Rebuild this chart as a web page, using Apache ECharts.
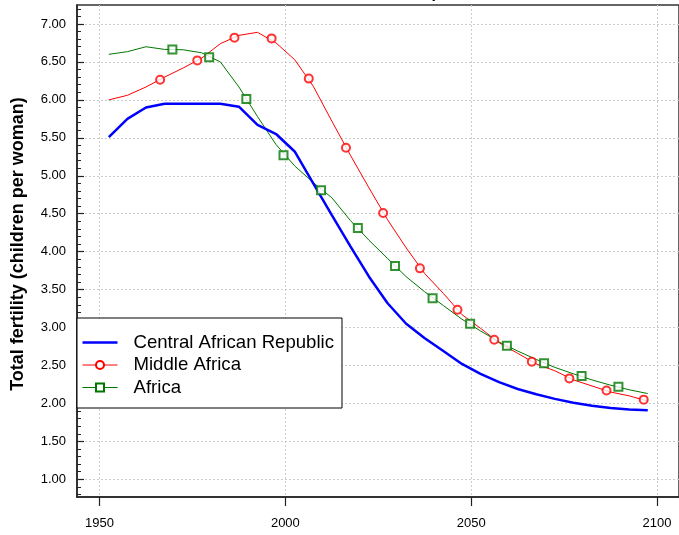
<!DOCTYPE html>
<html>
<head>
<meta charset="utf-8">
<script src="https://cdn.jsdelivr.net/npm/echarts@6/dist/echarts.min.js"></script>
<style>html,body{margin:0;padding:0;background:#fff;}#c{width:679px;height:535px;}</style>
</head>
<body>
<div id="c"></div>
<script>
const years = [1952.5,1957.5,1962.5,1967.5,1972.5,1977.5,1982.5,1987.5,1992.5,1997.5,
  2002.5,2007.5,2012.5,2017.5,2022.5,2027.5,2032.5,2037.5,2042.5,2047.5,
  2052.5,2057.5,2062.5,2067.5,2072.5,2077.5,2082.5,2087.5,2092.5,2097.5];
const carValues = [5.51,5.75,5.90,5.95,5.95,5.95,5.95,5.91,5.67,5.55,
  5.32,4.90,4.48,4.07,3.67,3.32,3.05,2.86,2.69,2.52,
  2.39,2.28,2.19,2.12,2.06,2.01,1.97,1.94,1.92,1.91];
const middleValues = [6.00,6.06,6.17,6.30,6.42,6.55,6.74,6.85,6.89,6.75,
  6.53,6.18,5.72,5.27,4.84,4.42,4.05,3.71,3.45,3.17,
  2.99,2.80,2.66,2.52,2.43,2.31,2.23,2.15,2.10,2.03];
const africaValues = [6.60,6.635,6.70,6.665,6.66,6.62,6.50,6.17,5.78,5.41,
  5.13,4.91,4.71,4.41,4.15,3.91,3.67,3.47,3.29,3.11,
  2.955,2.81,2.69,2.58,2.475,2.39,2.31,2.24,2.18,2.13];
const middleMarkerYears = [1966.3,1976.3,1986.3,1996.3,2006.3,2016.3,2026.3,2036.2,2046.3,2056.2,2066.3,2076.4,2086.4,2096.4];
const middleMarkerValues = [6.265,6.52,6.82,6.81,6.28,5.37,4.51,3.78,3.235,2.84,2.55,2.33,2.17,2.05];
const africaMarkerYears = [1969.6,1979.5,1989.5,1999.5,2009.6,2019.5,2029.5,2039.6,2049.7,2059.6,2069.6,2079.7,2089.6];
const africaMarkerValues = [6.665,6.56,6.01,5.27,4.81,4.31,3.81,3.385,3.05,2.76,2.53,2.36,2.22];
const xTicks = [1950,2000,2050,2100];
const yTicks = [1.0,1.5,2.0,2.5,3.0,3.5,4.0,4.5,5.0,5.5,6.0,6.5,7.0];
const yMinorTicks = [];
for (let i = 8; i <= 72; i++) yMinorTicks.push(i / 10);
const names = ['Central African Republic','Middle Africa','Africa'];

const zip = (xs, ys) => xs.map((x, i) => [x, ys[i]]);
const chart = echarts.init(document.getElementById('c'), null, {renderer: 'canvas'});
const font = 'Liberation Sans, Arial, sans-serif';
chart.setOption({
  animation: false,
  backgroundColor: '#fff',
  title: {
    text: 'Central African Republic',
    left: 292, top: -14, padding: 0,
    textStyle: {fontFamily: font, fontSize: 16, fontWeight: 'bold', color: '#000'}
  },
  grid: {left: 77, right: -2, top: 5, bottom: 38, show: true, borderColor: '#333', borderWidth: 1.5, backgroundColor: 'transparent'},
  legend: {
    data: [
      {name: names[0], icon: 'path://M0,0 L35,0 L35,2.5 L0,2.5 Z', itemStyle: {color: '#0000ff'}},
      {name: names[1], lineStyle: {width: 1}},
      {name: names[2], lineStyle: {width: 1}}
    ],
    orient: 'vertical',
    left: 77, top: 318,
    padding: [15, 8, 11, 5],
    itemGap: 3.5,
    itemWidth: 35, itemHeight: 10,
    backgroundColor: '#fff',
    borderColor: '#000', borderWidth: 1,
    textStyle: {fontFamily: font, fontSize: 18.6, color: '#000', lineHeight: 18, padding: [0, 0, 0, 11]}
  },
  xAxis: {
    type: 'value', min: 1943.94, max: 2105.9,
    axisLine: {show: true, onZero: false, lineStyle: {color: '#222', width: 1.5}},
    axisTick: {show: true, customValues: xTicks, length: 9, lineStyle: {color: '#222', width: 1.2}},
    axisLabel: {customValues: xTicks, margin: 20, fontFamily: font, fontSize: 13, color: '#000',
      formatter: v => String(Math.round(v))},
    splitLine: {show: true, lineStyle: {color: '#ccc', type: [2, 2], width: 1}}
  },
  yAxis: [{
    type: 'value', min: 0.767, max: 7.25,
    axisLine: {show: true, onZero: false, lineStyle: {color: '#222', width: 1.5}},
    axisTick: {show: true, inside: true, customValues: yTicks, length: 7, lineStyle: {color: '#222', width: 1.2}},
    axisLabel: {customValues: yTicks, margin: 11, fontFamily: font, fontSize: 13, color: '#000',
      formatter: v => Number(v).toFixed(2)},
    splitLine: {show: true, lineStyle: {color: '#ccc', type: [2, 2], width: 1}},
    name: 'Total fertility (children per woman)',
    nameLocation: 'middle', nameGap: 50,
    nameTextStyle: {fontFamily: font, fontSize: 18, fontWeight: 'bold', color: '#000', padding: [0, 0, 0, 14]}
  }, {
    type: 'value', min: 0.767, max: 7.25, position: 'left',
    axisLine: {show: false},
    axisTick: {show: true, inside: true, customValues: yMinorTicks, length: 4, lineStyle: {color: '#222', width: 1}},
    axisLabel: {show: false},
    splitLine: {show: false}
  }],
  series: [
    {name: names[0], type: 'line', data: zip(years, carValues), symbol: 'none', showSymbol: false,
      itemStyle: {color: '#0000ff'}, lineStyle: {color: '#0000ff', width: 2.5}, z: 3},
    {name: names[1], type: 'line', data: zip(years, middleValues), symbol: 'emptyCircle', symbolSize: 8, showSymbol: false,
      itemStyle: {color: '#ff0000'}, lineStyle: {color: '#ff0000', width: 1}, z: 2},
    {name: names[2], type: 'line', data: zip(years, africaValues), symbol: 'emptyRect', symbolSize: 8, showSymbol: false,
      itemStyle: {color: '#007700'}, lineStyle: {color: '#007700', width: 1}, z: 2},
    {name: 'mm', type: 'scatter', data: zip(middleMarkerYears, middleMarkerValues), symbol: 'emptyCircle', symbolSize: 8,
      itemStyle: {color: '#ff0000', borderColor: '#ff0000', borderWidth: 1}, z: 4},
    {name: 'am', type: 'scatter', data: zip(africaMarkerYears, africaMarkerValues), symbol: 'emptyRect', symbolSize: 8,
      itemStyle: {color: '#007700', borderColor: '#007700', borderWidth: 1}, z: 4}
  ]
});
</script>
</body>
</html>
